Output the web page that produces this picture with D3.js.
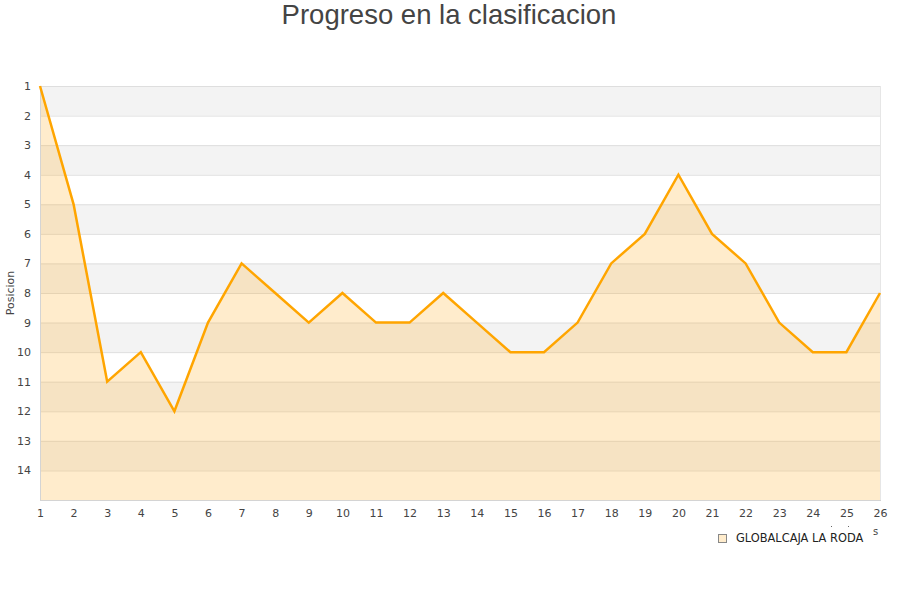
<!DOCTYPE html>
<html>
<head>
<meta charset="utf-8">
<script src="https://cdn.jsdelivr.net/npm/d3@7"></script>
<style>
body{margin:0;background:#fff;}
svg{display:block;}
</style>
</head>
<body>
<main></main>
<script>
const jornadas = [1,2,3,4,5,6,7,8,9,10,11,12,13,14,15,16,17,18,19,20,21,22,23,24,25,26];
const posiciones = [1,5,11,10,12,9,7,8,9,8,9,9,8,9,10,10,9,7,6,4,6,7,9,10,10,8];
const yTicks = [1,2,3,4,5,6,7,8,9,10,11,12,13,14];
const serieNombre = "GLOBALCAJA LA RODA";

function createSVG(){
    var width = 900;
    var height = 600;
    var svg = d3.select("main")
    .append("svg")
    .attr("width", width)
    .attr("height", height)

    const xScale = d3.scaleLinear()
    .domain([1,26])
    .range([40,880])

    const yScale = d3.scaleLinear()
    .domain([1,15])
    .range([86,500])

    // title
    svg.append("text")
    .attr("x", 449)
    .attr("y", 24)
    .attr("text-anchor","middle")
    .style("font-family","'Liberation Sans', Arial, sans-serif")
    .style("font-size","27.5px")
    .style("fill","#444")
    .text("Progreso en la clasificacion");

    // alternating bands
    svg.selectAll(".band")
    .data(d3.range(1,15))
    .enter()
    .append("rect")
    .attr("x", xScale(1))
    .attr("y", d => yScale(d))
    .attr("width", xScale(26)-xScale(1))
    .attr("height", d => yScale(d+1)-yScale(d))
    .style("fill", d => d%2==1 ? "#f3f3f3" : "#ffffff");

    // grid lines
    svg.selectAll(".grid")
    .data(yTicks)
    .enter()
    .append("line")
    .attr("x1", xScale(1))
    .attr("x2", xScale(26))
    .attr("y1", d => yScale(d)+0.5)
    .attr("y2", d => yScale(d)+0.5)
    .style("stroke","#dedede")
    .style("stroke-width",1);

    // area
    const area = d3.area()
    .x((d,i) => xScale(jornadas[i]))
    .y0(yScale(15))
    .y1(d => yScale(d));

    svg.append("path")
    .datum(posiciones)
    .attr("d", area)
    .style("fill","rgb(255,179,51)")
    .style("fill-opacity",0.25);

    // borders
    svg.append("line")
    .attr("x1", xScale(1)+0.5).attr("x2", xScale(1)+0.5)
    .attr("y1", yScale(1)).attr("y2", yScale(15))
    .style("stroke","#d4d4d4");
    svg.append("line")
    .attr("x1", xScale(26)+0.5).attr("x2", xScale(26)+0.5)
    .attr("y1", yScale(1)).attr("y2", yScale(15))
    .style("stroke","#e6e6e6");
    svg.append("line")
    .attr("x1", xScale(1)).attr("x2", xScale(26)+1)
    .attr("y1", yScale(15)+0.5).attr("y2", yScale(15)+0.5)
    .style("stroke","#d4d4d4");

    // line
    const line = d3.line()
    .x((d,i) => xScale(jornadas[i]))
    .y(d => yScale(d));

    svg.append("path")
    .datum(posiciones)
    .attr("d", line)
    .style("fill","none")
    .style("stroke","#ffa500")
    .style("stroke-width",2.5)
    .style("stroke-linejoin","miter");

    // axes
    var x_axis = d3.axisBottom(xScale)
    .tickValues(jornadas)
    .tickFormat(d3.format("d"))
    .tickSize(0)
    .tickPadding(9);

    var xg = svg.append("g")
    .attr("id","x-axis")
    .attr("transform","translate(0,"+yScale(15)+")")
    .call(x_axis);
    xg.select(".domain").remove();

    var y_axis = d3.axisLeft(yScale)
    .tickValues(yTicks)
    .tickFormat(d3.format("d"))
    .tickSize(0)
    .tickPadding(9);

    var yg = svg.append("g")
    .attr("id","y-axis")
    .attr("transform","translate("+xScale(1)+",0)")
    .call(y_axis);
    yg.select(".domain").remove();

    svg.selectAll(".tick text")
    .style("font-family","'DejaVu Sans', sans-serif")
    .style("font-size","11px")
    .style("fill","#444");

    // y axis title
    svg.append("text")
    .attr("transform","translate(14,"+yScale(8)+") rotate(-90)")
    .attr("text-anchor","middle")
    .style("font-family","'DejaVu Sans', sans-serif")
    .style("font-size","11px")
    .style("fill","#444")
    .text("Posicion");

    // clipped axis title remnants
    svg.append("text")
    .attr("x", 873).attr("y", 535)
    .style("font-family","'DejaVu Sans', sans-serif")
    .style("font-size","10px")
    .style("fill","#444")
    .text("s");
    svg.selectAll(".dot")
    .data([831,848])
    .enter()
    .append("rect")
    .attr("x", d => d).attr("y", 526)
    .attr("width",1).attr("height",1)
    .style("fill","#666");

    // legend
    svg.append("rect")
    .attr("x", 718.5).attr("y", 534.5)
    .attr("width",8).attr("height",8)
    .style("fill","#ffeccc")
    .style("stroke","#888")
    .style("stroke-width",1);

    svg.append("text")
    .attr("x", 736).attr("y", 542)
    .style("font-family","'DejaVu Sans', sans-serif")
    .style("font-size","11.4px")
    .style("fill","#222")
    .text(serieNombre);
}
createSVG();
</script>
</body>
</html>
